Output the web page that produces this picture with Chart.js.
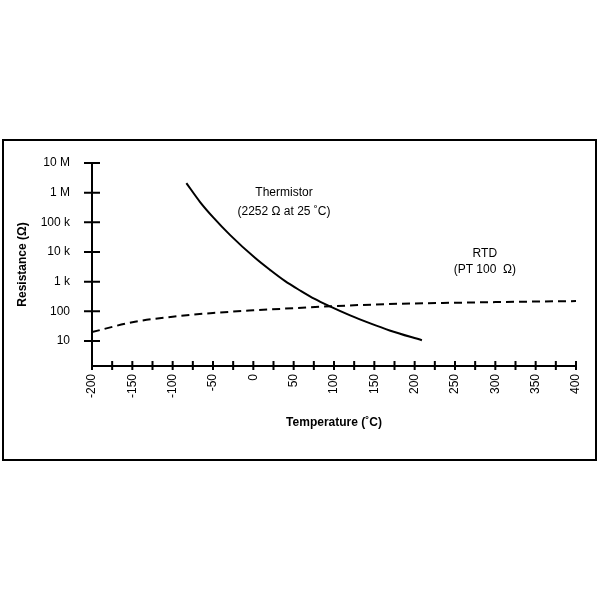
<!DOCTYPE html>
<html>
<head>
<meta charset="utf-8">
<title>Thermistor vs RTD</title>
<script src="https://cdn.jsdelivr.net/npm/chart.js@4.4.1/dist/chart.umd.min.js"></script>
<style>
  body { margin: 0; background: #fff; }
  #frame {
    position: absolute; left: 2px; top: 139px;
    width: 595px; height: 322px;
    box-sizing: border-box; border: 2px solid #000;
  }
  #myChart { position: absolute; left: 0; top: 0; }
</style>
</head>
<body>
<div id="frame"></div>
<canvas id="myChart" width="600" height="600"></canvas>
<script>
// Thermistor curve (temperature in °C, resistance in ohm)
const thermTemps = [-83, -66, -50, -29, 2, 21, 39, 58, 76, 95, 120, 145, 169, 209];
const thermOhms  = [2.1e6, 4.84e5, 1.5e5, 3.79e4, 6370, 2455, 1060, 504, 262, 147, 73, 39.2, 22.7, 10.6];

// RTD (PT100) curve
const rtdTemps = [-200, -150, -100, -50, 0, 50, 100, 150, 200, 250, 300, 350, 400];
const rtdOhms  = [20, 43, 66, 88, 108, 128, 150, 170, 185, 195, 205, 214, 222];

// axis ticks
const yTickValues = [10, 100, 1e3, 1e4, 1e5, 1e6, 1e7];
const yTickLabels = ['10', '100', '1 k', '10 k', '100 k', '1 M', '10 M'];

const FONT = 'Arial, "Liberation Sans", sans-serif';

const toPoints = (xs, ys) => xs.map((x, i) => ({ x: x, y: ys[i] }));

// text notes next to the curves (anchored in data units)
const notes = [
  { x: 38, y: 1e6, lines: ['Thermistor', '(2252 \u03A9 at 25 \u02DAC)'], gap: 19 },
  { x: 287, y: 8500, lines: ['RTD', '(PT 100  \u03A9)'], gap: 16 }
];

// tick marks that cross the axis lines, plus the notes
const crossTicks = {
  id: 'crossTicks',
  afterDraw(chart) {
    const { ctx, chartArea, scales: { x, y } } = chart;
    ctx.save();
    ctx.strokeStyle = '#000';
    ctx.lineWidth = 2;
    ctx.beginPath();
    y.ticks.forEach(t => {
      const py = y.getPixelForValue(t.value);
      ctx.moveTo(chartArea.left - 8, py);
      ctx.lineTo(chartArea.left + 8, py);
    });
    x.ticks.forEach(t => {
      const px = x.getPixelForValue(t.value);
      ctx.moveTo(px, chartArea.bottom - 5);
      ctx.lineTo(px, chartArea.bottom + 4);
    });
    ctx.stroke();

    ctx.fillStyle = '#000';
    ctx.font = '12px ' + FONT;
    ctx.textAlign = 'center';
    ctx.textBaseline = 'middle';
    notes.forEach(n => {
      const px = x.getPixelForValue(n.x);
      const py = y.getPixelForValue(n.y);
      n.lines.forEach((line, i) => ctx.fillText(line, px, py + i * n.gap));
    });
    ctx.restore();
  }
};

const ctx = document.getElementById('myChart').getContext('2d');
new Chart(ctx, {
  type: 'line',
  data: {
    datasets: [{
      label: 'Thermistor',
      data: toPoints(thermTemps, thermOhms),
      borderColor: '#000',
      borderWidth: 2,
      pointRadius: 0,
      fill: false,
      cubicInterpolationMode: 'monotone'
    }, {
      label: 'RTD',
      data: toPoints(rtdTemps, rtdOhms),
      borderColor: '#000',
      borderWidth: 2,
      borderDash: [8, 5],
      pointRadius: 0,
      fill: false,
      cubicInterpolationMode: 'monotone'
    }]
  },
  options: {
    responsive: false,
    animation: false,
    layout: { padding: { left: 10, top: 163, right: 24, bottom: 164 } },
    plugins: {
      legend: { display: false },
      tooltip: { enabled: false }
    },
    scales: {
      x: {
        type: 'linear',
        min: -200,
        max: 400,
        afterFit: s => { s.height = 70; },
        grid: { display: true, drawOnChartArea: false, drawTicks: false },
        border: { display: true, color: '#000', width: 2 },
        ticks: {
          stepSize: 25,
          autoSkip: false,
          minRotation: 90,
          maxRotation: 90,
          padding: 8,
          color: '#000',
          font: { family: FONT, size: 12 },
          callback: v => (v % 50 === 0 ? String(v) : '')
        },
        title: {
          display: true,
          text: 'Temperature (\u02DAC)',
          color: '#000',
          font: { family: FONT, size: 12, weight: 'bold' },
          padding: { top: 4, bottom: 6 }
        }
      },
      y: {
        type: 'logarithmic',
        min: 1.44,
        max: 1e7,
        afterFit: s => { s.width = 82; },
        afterBuildTicks: s => { s.ticks = yTickValues.map(v => ({ value: v })); },
        grid: { display: true, drawOnChartArea: false, drawTicks: false },
        border: { display: true, color: '#000', width: 2 },
        ticks: {
          padding: 22,
          color: '#000',
          font: { family: FONT, size: 12 },
          callback: (v, i) => yTickLabels[i]
        },
        title: {
          display: true,
          text: 'Resistance (\u03A9)',
          color: '#000',
          font: { family: FONT, size: 12, weight: 'bold' },
          padding: { top: 5, bottom: 4 }
        }
      }
    }
  },
  plugins: [crossTicks]
});
</script>
</body>
</html>
